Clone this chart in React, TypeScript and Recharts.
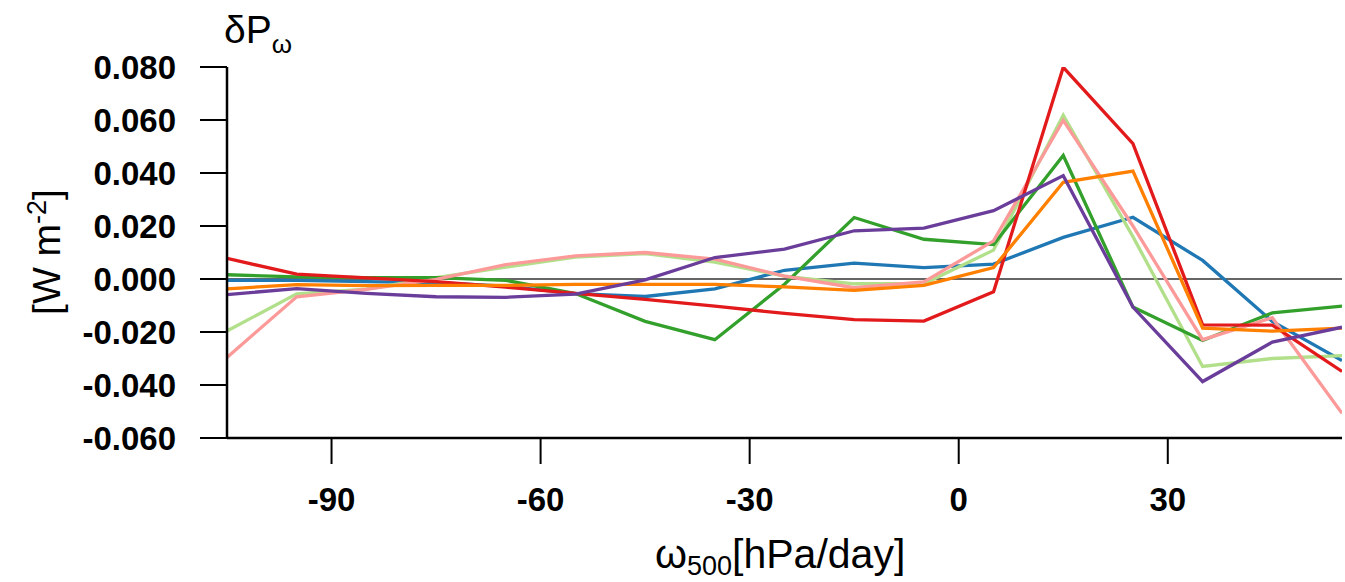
import React from 'react';
import { LineChart, Line, XAxis, YAxis, ReferenceLine } from 'recharts';

const omega = [-105, -95, -85, -75, -65, -55, -45, -35, -25, -15, -5, 5, 15, 25, 35, 45, 55];

const seriesBlue = [-0.0005, -0.0005, -0.001, -0.0014, -0.0027, -0.0055, -0.0066, -0.0037, 0.0033, 0.006, 0.0043, 0.0056, 0.0157, 0.0233, 0.007, -0.016, -0.0308];
const seriesLightGreen = [-0.0196, -0.0056, -0.0038, 0.0005, 0.0045, 0.0083, 0.0096, 0.0064, 0.0011, -0.0018, -0.0018, 0.0109, 0.0618, 0.016, -0.033, -0.03, -0.0289];
const seriesGreen = [0.0016, 0.0008, 0.0005, 0.0005, -0.0005, -0.0055, -0.016, -0.0229, -0.002, 0.0232, 0.015, 0.013, 0.0466, -0.0106, -0.0232, -0.0128, -0.0102];
const seriesPink = [-0.0296, -0.0067, -0.0039, -0.0001, 0.0054, 0.0087, 0.01, 0.0075, 0.0011, -0.0033, -0.0011, 0.0144, 0.0599, 0.02, -0.0229, -0.0146, -0.0507];
const seriesRed = [0.0078, 0.0018, 0.0004, -0.001, -0.0031, -0.0054, -0.0077, -0.0102, -0.013, -0.0153, -0.0159, -0.0048, 0.0799, 0.0511, -0.0173, -0.0174, -0.0349];
const seriesOrange = [-0.0037, -0.0021, -0.0025, -0.0024, -0.0024, -0.002, -0.002, -0.002, -0.003, -0.0043, -0.0024, 0.0043, 0.0365, 0.0407, -0.0185, -0.0197, -0.0185];
const seriesPurple = [-0.0059, -0.0036, -0.0054, -0.0067, -0.0069, -0.0057, -0.0003, 0.0081, 0.0113, 0.0182, 0.0192, 0.0258, 0.039, -0.0106, -0.0387, -0.0238, -0.0182];

const xTicks = [-90, -60, -30, 0, 30];
const yTicks = [-0.06, -0.04, -0.02, 0, 0.02, 0.04, 0.06, 0.08];

const seriesDefs = [
  { key: 'blue', values: seriesBlue, color: '#1f78b4' },
  { key: 'lightgreen', values: seriesLightGreen, color: '#b2df8a' },
  { key: 'green', values: seriesGreen, color: '#33a02c' },
  { key: 'pink', values: seriesPink, color: '#fb9a99' },
  { key: 'red', values: seriesRed, color: '#e31a1c' },
  { key: 'orange', values: seriesOrange, color: '#ff7f00' },
  { key: 'purple', values: seriesPurple, color: '#6a3d9a' },
];

const data = omega.map((x, i) => {
  const row: Record<string, number> = { x };
  seriesDefs.forEach((s) => {
    row[s.key] = s.values[i];
  });
  return row;
});

const FONT = '"Liberation Sans", Arial, Helvetica, sans-serif';

function Titles() {
  return (
    <g>
      <text x={224} y={43} fontFamily={FONT} fontSize={39} fill="#000">
        <tspan>δP</tspan>
        <tspan fontSize={26} dy={10}>ω</tspan>
      </text>
      <text
        x={60}
        y={252}
        transform="rotate(-90, 60, 252)"
        textAnchor="middle"
        fontFamily={FONT}
        fontSize={39}
        fill="#000"
      >
        <tspan>[W m</tspan>
        <tspan fontSize={27} dy={-14}>-2</tspan>
        <tspan dy={14}>]</tspan>
      </text>
      <text x={655} y={568} fontFamily={FONT} fontSize={41} fill="#000">
        <tspan>ω</tspan>
        <tspan fontSize={27} dy={7}>500</tspan>
        <tspan dy={-7}>[hPa/day]</tspan>
      </text>
    </g>
  );
}

export default function App() {
  return (
    <div style={{ position: 'absolute', left: 0, top: 0, width: 1345, height: 582, background: '#fff' }}>
      <LineChart
        width={1345}
        height={582}
        data={data}
        margin={{ top: 67, right: 3, bottom: 84, left: 127 }}
      >
        <XAxis
          dataKey="x"
          type="number"
          domain={[-105, 55]}
          ticks={xTicks}
          allowDataOverflow
          height={60}
          tickSize={26}
          tickMargin={24}
          axisLine={{ stroke: '#000', strokeWidth: 2.5 }}
          tickLine={{ stroke: '#000', strokeWidth: 2 }}
          tick={{ fontSize: 33, fontWeight: 'bold', fill: '#000', fontFamily: FONT }}
        />
        <YAxis
          type="number"
          domain={[-0.06, 0.08]}
          ticks={yTicks}
          allowDataOverflow
          width={100}
          tickSize={27}
          tickMargin={24}
          tickFormatter={(v: number) => v.toFixed(3)}
          axisLine={{ stroke: '#000', strokeWidth: 2.5 }}
          tickLine={{ stroke: '#000', strokeWidth: 2 }}
          tick={{ fontSize: 33, fontWeight: 'bold', fill: '#000', fontFamily: FONT }}
        />
        <ReferenceLine y={0} stroke="#333" strokeWidth={1.5} />
        {seriesDefs.map((s) => (
          <Line
            key={s.key}
            dataKey={s.key}
            type="linear"
            stroke={s.color}
            strokeWidth={3.3}
            dot={false}
            activeDot={false}
            isAnimationActive={false}
          />
        ))}
        <Titles />
      </LineChart>
    </div>
  );
}
